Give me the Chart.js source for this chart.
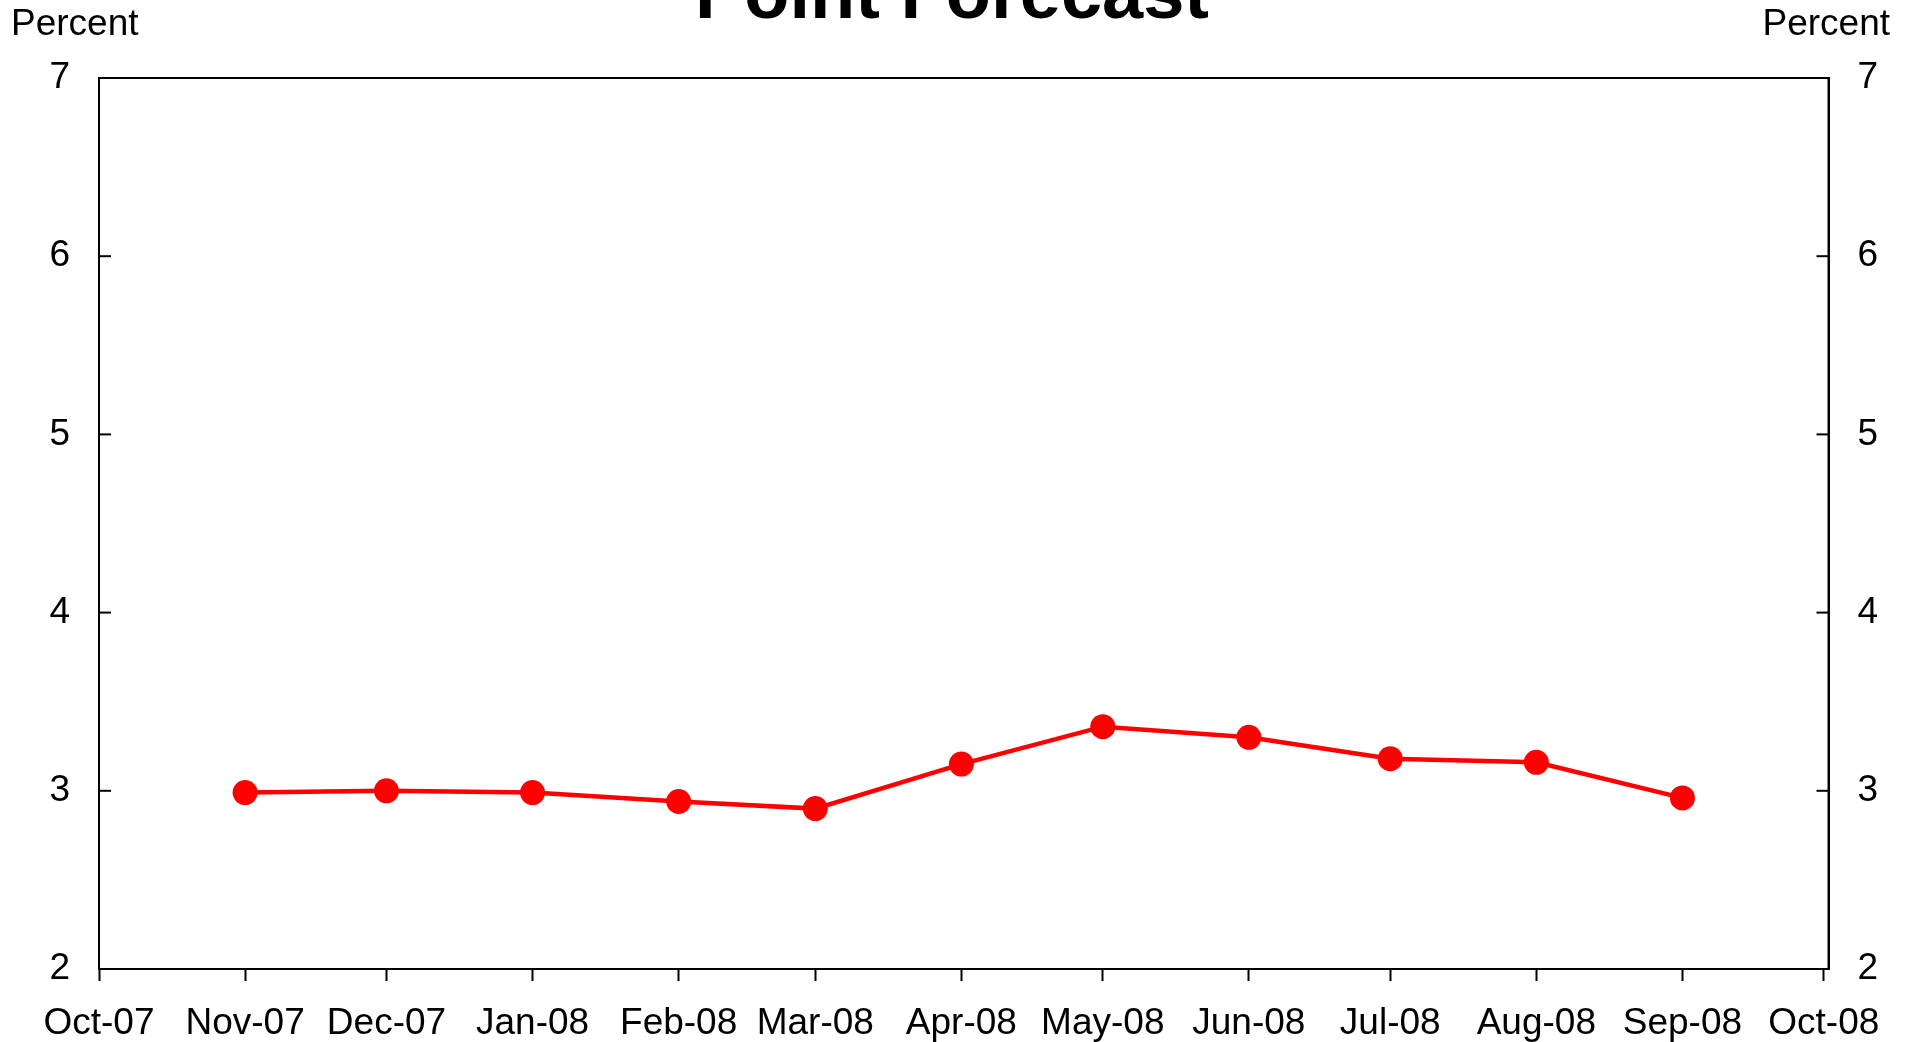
<!DOCTYPE html>
<html><head><meta charset="utf-8">
<script src="https://cdn.jsdelivr.net/npm/chart.js@4.4.0/dist/chart.umd.min.js"></script>
<style>html,body{margin:0;padding:0;background:#fff;overflow:hidden}canvas{display:block}</style>
</head><body>
<canvas id="c" width="1916" height="1042"></canvas>
<script>
const chartTitle = "Point Forecast";
const axisUnit = "Percent";
const pointDates = ["2007-11-01","2007-12-01","2008-01-01","2008-02-01","2008-03-01","2008-04-01","2008-05-01","2008-06-01","2008-07-01","2008-08-01","2008-09-01"];
const forecastValues = [2.99, 3.00, 2.99, 2.94, 2.90, 3.15, 3.36, 3.30, 3.18, 3.16, 2.96];
const tickDates = ["2007-10-01","2007-11-01","2007-12-01","2008-01-01","2008-02-01","2008-03-01","2008-04-01","2008-05-01","2008-06-01","2008-07-01","2008-08-01","2008-09-01","2008-10-01"];
const tickLabels = ["Oct-07","Nov-07","Dec-07","Jan-08","Feb-08","Mar-08","Apr-08","May-08","Jun-08","Jul-08","Aug-08","Sep-08","Oct-08"];
const yTicks = [2, 3, 4, 5, 6, 7];
const axisStart = "2007-10-01";
const axisEnd = "2008-10-02";

function dayOf(s){ return (Date.parse(s + "T00:00:00Z") - Date.parse(axisStart + "T00:00:00Z")) / 86400000; }

Chart.defaults.font.family = "'Liberation Sans', Arial, sans-serif";
Chart.defaults.color = "#000";

const FONT = 37;

const decor = {
  id: 'decor',
  afterDraw(chart){
    const {ctx, chartArea: a, scales} = chart;
    ctx.save();
    ctx.strokeStyle = '#000';
    ctx.lineWidth = 2;
    ctx.strokeRect(a.left, a.top, a.right - a.left, a.bottom - a.top);
    yTicks.forEach(v => {
      const y = scales.y.getPixelForValue(v);
      ctx.beginPath(); ctx.moveTo(a.left, y); ctx.lineTo(a.left + 12, y); ctx.stroke();
      ctx.beginPath(); ctx.moveTo(a.right - 12, y); ctx.lineTo(a.right, y); ctx.stroke();
    });
    ctx.fillStyle = '#000';
    ctx.textBaseline = 'alphabetic';
    ctx.font = "bold 74px 'Liberation Sans', Arial, sans-serif";
    ctx.textAlign = 'center';
    ctx.fillText(chartTitle, 952, 18);
    ctx.font = FONT + "px 'Liberation Sans', Arial, sans-serif";
    ctx.textAlign = 'left';
    ctx.fillText(axisUnit, 11, 35);
    ctx.textAlign = 'right';
    ctx.fillText(axisUnit, 1890, 35);
    ctx.restore();
  }
};

const yCommon = {
  type: 'linear', min: 2, max: 7,
  grid: { drawOnChartArea: false, drawTicks: false },
  border: { display: true, color: '#000', width: 2 },
  ticks: { stepSize: 1, padding: 29, font: { size: FONT }, color: '#000' },
  afterBuildTicks(s){ s.ticks = yTicks.map(v => ({ value: v })); }
};

new Chart(document.getElementById('c'), {
  type: 'line',
  data: {
    datasets: [{
      data: pointDates.map((d, i) => ({ x: dayOf(d), y: forecastValues[i] })),
      borderColor: '#ff0000',
      backgroundColor: '#ff0000',
      borderWidth: 4.5,
      pointRadius: 12.5,
      pointHoverRadius: 12.5,
      pointBorderWidth: 0,
      pointBackgroundColor: '#ff0000',
      tension: 0,
      yAxisID: 'y'
    }]
  },
  options: {
    responsive: false,
    animation: false,
    devicePixelRatio: 1,
    layout: { padding: { top: 78, left: 0, right: 0, bottom: 0 } },
    plugins: { legend: { display: false }, tooltip: { enabled: false }, title: { display: false } },
    scales: {
      x: {
        type: 'linear', min: 0, max: dayOf(axisEnd),
        grid: { drawOnChartArea: false, drawTicks: true, tickLength: 12, tickColor: '#000', tickWidth: 2 },
        border: { display: true, color: '#000', width: 2 },
        ticks: { autoSkip: false, maxRotation: 0, padding: 21, font: { size: FONT }, color: '#000',
          callback: (v, i) => tickLabels[i] },
        afterBuildTicks(s){ s.ticks = tickDates.map(d => ({ value: dayOf(d) })); },
        afterFit(s){ s.height = 73; }
      },
      y: Object.assign({}, yCommon, { position: 'left', afterFit(s){ s.width = 99; } }),
      y2: Object.assign({}, yCommon, { position: 'right', afterFit(s){ s.width = 87.5; } })
    }
  },
  plugins: [decor]
});
</script>
</body></html>
